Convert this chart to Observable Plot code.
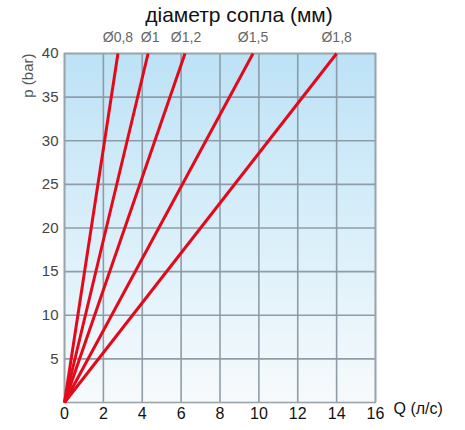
<!DOCTYPE html>
<html>
<head>
<meta charset="utf-8">
<script src="https://cdn.jsdelivr.net/npm/d3@7"></script>
<script src="https://cdn.jsdelivr.net/npm/@observablehq/plot@0.6"></script>
<style>
  html, body { margin: 0; padding: 0; background: #fff; }
  svg { font-family: "Liberation Sans", Arial, sans-serif; }
</style>
</head>
<body>
<div id="chart"></div>
<script>
// Data
const diameters = ["Ø0,8", "Ø1", "Ø1,2", "Ø1,5", "Ø1,8"];
const flowAt40 = [2.75, 4.3, 6.2, 9.7, 14.0];   // Q (л/с) at p = 40 bar
const labelShift = [0, 2, 1, 0, 0];             // small horizontal nudge of labels (px)
const pressureMax = 40;
const xTicks = [0, 2, 4, 6, 8, 10, 12, 14, 16];
const yTicks = [5, 10, 15, 20, 25, 30, 35, 40];
const title = "діаметр сопла (мм)";
const xLabel = "Q (л/с)";
const yLabel = "p (bar)";

const lines = diameters.map((d, i) => ({d, x1: 0, y1: 0, x2: flowAt40[i], y2: pressureMax, s: labelShift[i]}));

const plot = Plot.plot({
  width: 465,
  height: 430,
  marginLeft: 64,
  marginRight: 90,
  marginTop: 53,
  marginBottom: 28,
  style: {background: "transparent", fontFamily: "'Liberation Sans', Arial, sans-serif"},
  x: {domain: [0, 16]},
  y: {domain: [0, 40]},
  marks: [
    Plot.frame({fill: "url(#bgGrad)", stroke: null}),
    Plot.gridX(xTicks, {stroke: "#8a98a3", strokeOpacity: 0.95, strokeWidth: 1.6}),
    Plot.gridY(yTicks, {stroke: "#8a98a3", strokeOpacity: 0.95, strokeWidth: 1.6}),
    Plot.frame({stroke: "#9aa3aa", strokeWidth: 1.6}),
    Plot.axisX(xTicks, {tickSize: 0, tickPadding: 5, fontSize: 16, fill: "#111", label: null}),
    Plot.axisY(yTicks, {tickSize: 0, tickPadding: 6, fontSize: 15, fill: "#444", label: null}),
    Plot.link(lines, {x1: "x1", y1: "y1", x2: "x2", y2: "y2", stroke: "#e20a1a", strokeWidth: 3}),
    ...lines.map(l => Plot.text([l], {x: "x2", y: "y2", text: "d", dx: l.s, dy: -16, lineAnchor: "middle", fontSize: 14, fill: "#666"})),
    Plot.text([title], {frameAnchor: "top", lineAnchor: "middle", dx: 19, dy: -38, fontSize: 21, fill: "#111"}),
    Plot.text([xLabel], {frameAnchor: "bottom-right", dx: 18, dy: 11, textAnchor: "start", fontSize: 16, fill: "#111"}),
    Plot.text([yLabel], {frameAnchor: "top-left", dx: -42, dy: 0, rotate: -90, textAnchor: "end", fontSize: 15, fill: "#555"})
  ]
});

const svg = d3.select(plot);
const defs = svg.insert("defs", ":first-child");
const grad = defs.append("linearGradient")
  .attr("id", "bgGrad").attr("x1", 0).attr("y1", 0).attr("x2", 0).attr("y2", 1);
grad.append("stop").attr("offset", "0%").attr("stop-color", "#bde2f6");
grad.append("stop").attr("offset", "55%").attr("stop-color", "#dcf0fa");
grad.append("stop").attr("offset", "100%").attr("stop-color", "#f7fafc");

document.getElementById("chart").appendChild(plot);
</script>
</body>
</html>
